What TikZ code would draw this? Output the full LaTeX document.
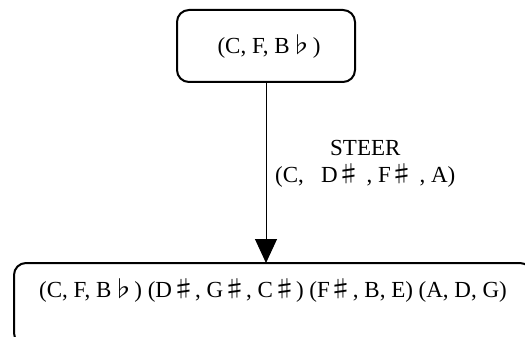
\documentclass[tikz,border=0pt]{standalone}
\usepackage{fontspec}
\setmainfont{Liberation Serif}
\newfontfamily\symfont{Noto Sans CJK JP}
\usetikzlibrary{arrows.meta}
\newcommand{\shp}{{\symfont ♯}}
\newcommand{\flt}{{\symfont ♭}}
\tikzset{
  statebox/.style={draw, line width=2pt, rounded corners=12pt},
  txt/.style={font=\fontsize{23}{27}\selectfont, inner sep=0pt},
  conn/.style={line width=1pt, -{Triangle[length=24pt,width=22pt]}}
}
\begin{document}
\begin{tikzpicture}[x=1pt,y=-1pt]
\useasboundingbox (0,0) rectangle (525,337);
\draw[statebox] (177,10) rectangle (355,82);
\coordinate (topb) at (266,82);
\node[txt] (top) at (269,47) {(C, F, B\flt)};
\draw[statebox] (14,263) rectangle (532,345);
\coordinate (botb) at (266,263);
\node[txt] (bot) at (273,291) {(C, F, B\flt) (D\shp, G\shp, C\shp) (F\shp, B, E) (A, D, G)};
\draw[conn] (topb) -- (botb);
\node[txt, align=left, anchor=base west] (lab) at (275,182) {\hspace*{55pt}STEER\\(C,\ \ \ D\shp\ , F\shp\ , A)};
\end{tikzpicture}
\end{document}
